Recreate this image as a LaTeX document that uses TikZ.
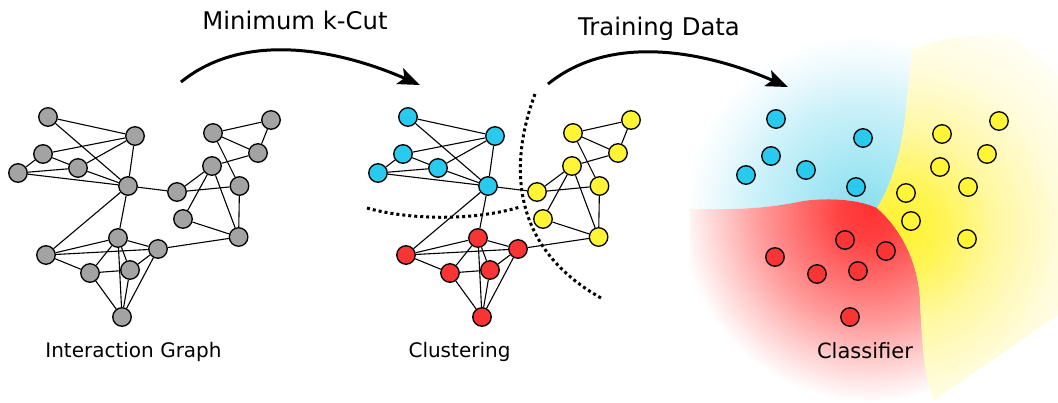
\documentclass[tikz,border=0pt]{standalone}
\usepackage{fontspec}
\setmainfont{DejaVu Sans}
\usetikzlibrary{arrows.meta,backgrounds}

\definecolor{nodegray}{HTML}{A3A3A3}
\definecolor{nodecyan}{HTML}{2AC9EE}
\definecolor{nodered}{HTML}{F73535}
\definecolor{nodeyellow}{HTML}{FFF536}

% background tints of the three classifier regions
\definecolor{cyanA}{HTML}{88DDEE}
\definecolor{cyanB}{HTML}{A8E8F4}
\definecolor{cyanC}{HTML}{CBF1F9}
\definecolor{cyanD}{HTML}{EEFAFD}
\definecolor{redA}{HTML}{FF3333}
\definecolor{redB}{HTML}{FF4242}
\definecolor{redC}{HTML}{FF6C6C}
\definecolor{redD}{HTML}{FF9A9A}
\definecolor{redE}{HTML}{FFD0D0}
\definecolor{ylwA}{HTML}{FFF22E}
\definecolor{ylwB}{HTML}{FFF555}
\definecolor{ylwC}{HTML}{FFF8A2}
\definecolor{ylwD}{HTML}{FFFCDD}
\definecolor{ylwE}{HTML}{FFFEF4}

% radial fades: 25bp is the rim of the shaded circle
\pgfdeclareradialshading{cyanfade}{\pgfpoint{0bp}{0bp}}{color(0bp)=(cyanA); color(7.5bp)=(cyanB); color(15bp)=(cyanC); color(21bp)=(cyanD); color(25bp)=(white); color(50bp)=(white)}
\pgfdeclareradialshading{redfade}{\pgfpoint{0bp}{0bp}}{color(0bp)=(redA); color(4bp)=(redB); color(9bp)=(redC); color(14.5bp)=(redD); color(20bp)=(redE); color(25bp)=(white); color(50bp)=(white)}
\pgfdeclareradialshading{ylwfade}{\pgfpoint{0bp}{0bp}}{color(0bp)=(ylwA); color(5bp)=(ylwB); color(11bp)=(ylwC); color(18.5bp)=(ylwD); color(25bp)=(ylwE); color(50bp)=(ylwE)}

\tikzset{
  vtx/.style={circle, draw=black, line width=1.3pt, minimum size=18.5pt, inner sep=0pt},
  link/.style={line width=1.1pt},
  cutline/.style={line width=3pt, dash pattern=on 3pt off 3pt},
  flow/.style={line width=3pt, -{Stealth[length=22pt,width=17pt,inset=5pt]}},
  toplabel/.style={anchor=base, font=\fontsize{24.3}{29}\selectfont},
  botlabel/.style={anchor=base, font=\fontsize{20}{24}\selectfont},
}

\begin{document}
\begin{tikzpicture}[x=1pt, y=-1pt]
\useasboundingbox (0,0) rectangle (1058,402);

% ---------- classifier regions ----------
\begin{scope}
  \clip (690,209) .. controls (740,210) and (770,208) .. (803,201)
        .. controls (830,197) and (860,200) .. (877,208)
        .. controls (895,180) and (903,140) .. (906,110)
        .. controls (909,80) and (911,60) .. (913,48)
        -- (880,15) -- (690,15) -- cycle;
  \shade[shading=cyanfade] (862,212) circle [radius=178pt];
\end{scope}
\begin{scope}
  \clip (690,209) .. controls (740,210) and (770,208) .. (803,201)
        .. controls (830,197) and (860,200) .. (877,208)
        .. controls (900,228) and (918,260) .. (920,300)
        .. controls (922,340) and (924,380) .. (934,402)
        -- (690,402) -- cycle;
  \shade[shading=redfade] (870,212) circle [radius=190pt];
\end{scope}
\begin{scope}
  \clip (877,208) .. controls (895,180) and (903,140) .. (906,110)
        .. controls (909,80) and (911,60) .. (913,48)
        -- (955,37) -- (1058,30) -- (1058,315) -- (934,400)
        .. controls (924,380) and (922,340) .. (920,300)
        .. controls (918,260) and (900,228) .. (877,208) -- cycle;
  \shade[shading=ylwfade] (900,228) circle [radius=220pt];
\end{scope}

% ---------- interaction graph ----------
\foreach \n/\x/\y in {A/48/117, B/135/136, C/43/154, D/78/168, E/18/173,
    F/128/186, G/213/133, H/271/120, I/258/153, J/212/166, K/177/192,
    L/239.5/186, M/183/219, N/238.6/237, O/118/238, P/158/249, Q/46/255,
    R/90/273, S/130/270, T/122/317}
  \node[vtx, fill=nodegray] (l\n) at (\x,\y) {};

% ---------- clustered graph ----------
\foreach \n/\x/\y/\c in {A/48/117/nodecyan, B/135/136/nodecyan,
    C/43/154/nodecyan, D/78/168/nodecyan, E/18/173/nodecyan,
    F/128/186/nodecyan, G/213/133/nodeyellow, H/271/120/nodeyellow,
    I/258/153/nodeyellow, J/212/166/nodeyellow, K/177/192/nodeyellow,
    L/239.5/186/nodeyellow, M/183/219/nodeyellow, N/238.6/237/nodeyellow,
    O/118/238/nodered, P/158/249/nodered, Q/46/255/nodered,
    R/90/273/nodered, S/130/270/nodered, T/122/317/nodered}
  \node[vtx, fill=\c] (m\n) at ({\x+360},\y) {};

\begin{pgfonlayer}{background}
  \foreach \a/\b in {A/B, A/F, C/B, C/D, C/E, D/B, E/D, E/F, D/F, B/F,
      F/K, F/Q, F/O, G/H, G/I, G/L, H/I, I/J, J/K, J/M, J/N, K/L, L/N,
      M/N, O/Q, O/R, O/S, O/P, O/T, Q/P, Q/R, R/S, R/T, S/P, S/T, P/T, P/N}
  {
    \draw[link] (l\a) -- (l\b);
    \draw[link] (m\a) -- (m\b);
  }
\end{pgfonlayer}

% cut lines
\coordinate (cutAs) at (367,208);
\coordinate (cutAe) at (520,207);
\coordinate (cutBs) at (535,94);
\coordinate (cutBe) at (601,298);
\draw[cutline] (cutAs) .. controls (405,219) and (470,222) .. (cutAe);
\draw[cutline] (cutBs) .. controls (516,145) and (498,240) .. (cutBe);

% ---------- classifier points ----------
\foreach \x/\y [count=\i] in {776/119, 863/138, 771/156, 746/175, 806/170, 856/187}
  \node[vtx, fill=nodecyan] (cb\i) at (\x,\y) {};
\foreach \x/\y [count=\i] in {999/121, 942/134, 987/154, 940/167, 968/187, 906/193, 911/221, 967/239}
  \node[vtx, fill=nodeyellow] (cy\i) at (\x,\y) {};
\foreach \x/\y [count=\i] in {845/240, 886/251, 775/257, 817/274, 858/271, 850/317}
  \node[vtx, fill=nodered] (cr\i) at (\x,\y) {};

% ---------- process arrows ----------
\coordinate (fa1) at (181,82);
\coordinate (fa2) at (420,85);
\coordinate (fb1) at (548,84);
\coordinate (fb2) at (788,87);
\draw[flow] (fa1) .. controls (245,30) and (340,50) .. (fa2);
\draw[flow] (fb1) .. controls (612,32) and (707,52) .. (fb2);

% ---------- labels ----------
\node[toplabel] (tcut) at (295,29) {Minimum k-Cut};
\node[toplabel] (ttrain) at (659,35) {Training Data};
\node[botlabel] (tgraph) at (133.5,357) {Interaction Graph};
\node[botlabel] (tclust) at (459.5,357) {Clustering};
\node[anchor=base, font=\fontsize{21}{25}\selectfont] (tclass) at (865,358) {Classifier};
\end{tikzpicture}
\end{document}
